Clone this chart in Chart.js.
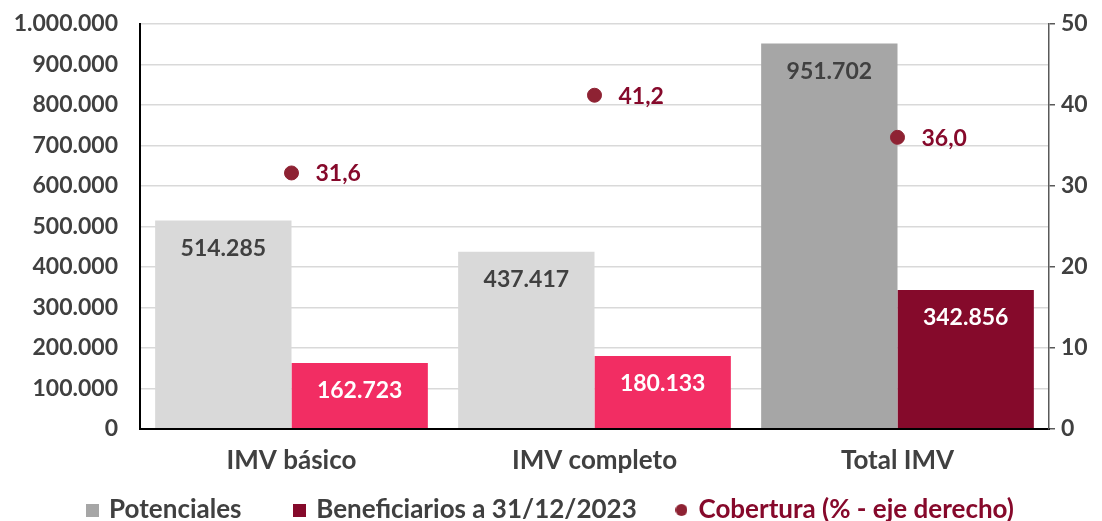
<!DOCTYPE html>
<html>
<head>
<meta charset="utf-8">
<script src="https://cdn.jsdelivr.net/npm/chart.js@4"></script>
<style>
html,body{margin:0;padding:0;background:#fff;}
#wrap{width:1102px;height:521px;position:relative;}
</style>
</head>
<body>
<div id="wrap"><canvas id="c" width="1102" height="521"></canvas></div>
<script>
const categories = ['IMV básico', 'IMV completo', 'Total IMV'];
const potenciales = [514285, 437417, 951702];
const beneficiarios = [162723, 180133, 342856];
const cobertura = [31.6, 41.2, 36.0];
const leftTicks = [0, 100000, 200000, 300000, 400000, 500000, 600000, 700000, 800000, 900000, 1000000];
const rightTicks = [0, 10, 20, 30, 40, 50];
const seriesNames = ['Potenciales', 'Beneficiarios a 31/12/2023', 'Cobertura (% - eje derecho)'];

const FONT = 'Lato';
const FS = 23;
const FW = 26;
const TXT = '#404040';
const fmtThousands = v => String(Math.round(v)).replace(/\B(?=(\d{3})+(?!\d))/g, '.');
const fmtDec = v => v.toFixed(1).replace('.', ',');

function marker(shape, color, size) {
  const c = document.createElement('canvas');
  c.width = size; c.height = size;
  const g = c.getContext('2d');
  g.fillStyle = color;
  if (shape === 'circle') { g.beginPath(); g.arc(size / 2, size / 2, size / 2, 0, Math.PI * 2); g.fill(); }
  else g.fillRect(0, 0, size, size);
  return c;
}

const labelPlugin = {
  id: 'valueLabels',
  afterDatasetsDraw(chart) {
    const ctx = chart.ctx;
    ctx.save();
    ctx.font = `bold ${FS}px ${FONT}`;
    ctx.textBaseline = 'middle';
    chart.data.datasets.forEach((ds, di) => {
      const meta = chart.getDatasetMeta(di);
      meta.data.forEach((el, i) => {
        if (ds.type === 'line') {
          ctx.fillStyle = '#86092B';
          ctx.textAlign = 'left';
          ctx.fillText(fmtDec(ds.data[i]), el.x + 24, el.y + 1);
        } else {
          ctx.fillStyle = ds.labelColors[i];
          ctx.textAlign = 'center';
          ctx.fillText(fmtThousands(ds.data[i]), el.x, el.y + 28);
        }
      });
    });
    ctx.restore();
  }
};

new Chart(document.getElementById('c'), {
  data: {
    labels: categories,
    datasets: [
      {
        type: 'line',
        label: seriesNames[2],
        data: cobertura,
        yAxisID: 'y1',
        showLine: false,
        pointRadius: 7,
        pointHoverRadius: 7,
        pointBackgroundColor: '#8E2233',
        pointBorderColor: '#8E2233',
        borderColor: '#8E2233',
        backgroundColor: '#8E2233',
        order: 0
      },
      {
        type: 'bar',
        label: seriesNames[0],
        data: potenciales,
        yAxisID: 'y',
        backgroundColor: ['#D9D9D9', '#D9D9D9', '#A6A6A6'],
        labelColors: [TXT, TXT, TXT],
        barPercentage: 1,
        categoryPercentage: 0.9,
        order: 1
      },
      {
        type: 'bar',
        label: seriesNames[1],
        data: beneficiarios,
        yAxisID: 'y',
        backgroundColor: ['#F22D63', '#F22D63', '#850A2B'],
        labelColors: ['#FFFFFF', '#FFFFFF', '#FFFFFF'],
        barPercentage: 1,
        categoryPercentage: 0.9,
        order: 1
      }
    ]
  },
  options: {
    responsive: false,
    animation: false,
    events: [],
    layout: { padding: { top: 24, left: 0, right: 0, bottom: -12 } },
    plugins: {
      tooltip: { enabled: false },
      legend: {
        position: 'bottom',
        labels: {
          usePointStyle: true,
          boxHeight: 13,
          pointStyleWidth: 8,
          padding: 5,
          font: { family: FONT, size: FW, weight: 'bold' },
          color: TXT,
          generateLabels() {
            return [
              { text: seriesNames[0] + '\u2003\u2002\u2002\u2009', fillStyle: '#A6A6A6', strokeStyle: '#A6A6A6', lineWidth: 0, pointStyle: marker('rect', '#A6A6A6', 13), fontColor: TXT, datasetIndex: 1 },
              { text: seriesNames[1] + '\u2003\u2002\u2009', fillStyle: '#850A2B', strokeStyle: '#850A2B', lineWidth: 0, pointStyle: marker('rect', '#850A2B', 13), fontColor: TXT, datasetIndex: 2 },
              { text: seriesNames[2], fillStyle: '#8E2233', strokeStyle: '#8E2233', lineWidth: 0, pointStyle: marker('circle', '#8E2233', 12), fontColor: '#86092B', datasetIndex: 0 }
            ];
          }
        }
      }
    },
    scales: {
      x: {
        grid: { display: false, drawTicks: false },
        border: { color: '#000000', width: 2 },
        ticks: { color: TXT, font: { family: FONT, size: FW, weight: 'bold' }, padding: 16 }
      },
      y: {
        position: 'left',
        min: 0, max: 1000000,
        afterBuildTicks(axis) { axis.ticks = leftTicks.map(v => ({ value: v })); },
        afterFit(axis) { axis.width = 140; axis.paddingTop = 4; axis.paddingBottom = 4; },
        grid: { color: '#D9D9D9', lineWidth: 1.5, drawTicks: false },
        border: { color: '#000000', width: 2 },
        ticks: { color: TXT, font: { family: FONT, size: FS, weight: 'bold' }, padding: 22, callback: v => fmtThousands(v) }
      },
      y1: {
        position: 'right',
        min: 0, max: 50,
        afterBuildTicks(axis) { axis.ticks = rightTicks.map(v => ({ value: v })); },
        afterFit(axis) { axis.width = 53; axis.paddingTop = 4; axis.paddingBottom = 4; },
        grid: { drawOnChartArea: false, drawTicks: true, tickLength: 6, color: '#595959', lineWidth: 1.5 },
        border: { color: '#595959', width: 1.5 },
        ticks: { color: TXT, font: { family: FONT, size: FS, weight: 'bold' }, padding: 6 }
      }
    }
  },
  plugins: [labelPlugin]
});
</script>
</body>
</html>
